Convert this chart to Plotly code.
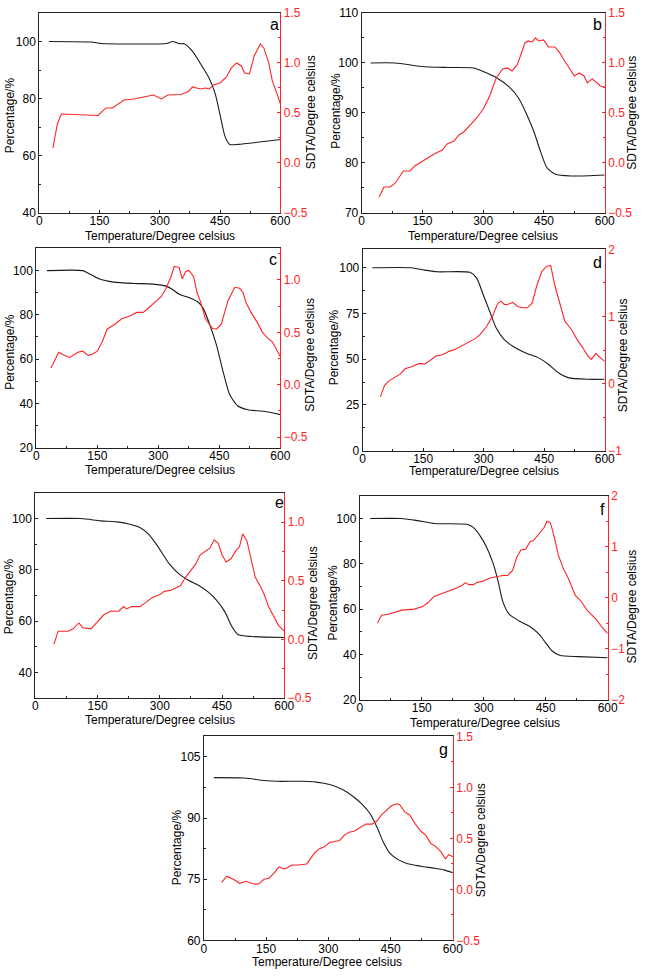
import plotly.graph_objects as go

W, H = 651, 978
RED = "#ff2424"
FONT = "Arial, Liberation Sans, sans-serif"

# ---------------- data ----------------
a_tg_x = [24, 130, 154, 316, 332, 349, 361, 381, 405, 422, 438, 450, 462, 474, 495, 600]
a_tg_y = [100, 99.8, 99.3, 99.3, 100, 99.2, 99.2, 96.6, 91.4, 87.4, 81.7, 74.3, 66.9, 64, 64, 65.7]
a_sd_x = [34, 45, 55, 146, 166, 182, 211, 235, 284, 304, 320, 353, 373, 381, 401, 414, 423, 434, 450, 466, 478, 491, 503, 511, 523, 535, 550, 559, 571, 580, 592, 600]
a_sd_y = [0.15, 0.39, 0.49, 0.475, 0.55, 0.55, 0.63, 0.64, 0.68, 0.64, 0.68, 0.685, 0.72, 0.76, 0.74, 0.75, 0.74, 0.78, 0.8, 0.86, 0.95, 1.0, 0.97, 0.9, 0.89, 1.07, 1.19, 1.15, 1.0, 0.82, 0.69, 0.59]

b_tg_x = [22, 83, 147, 211, 276, 300, 332, 364, 388, 408, 425, 441, 457, 477, 517, 600]
b_tg_y = [100, 100, 99.3, 99.1, 99, 98.3, 97.1, 95.2, 92.9, 89.6, 86.3, 82.4, 79.1, 77.8, 77.4, 77.6]
b_sd_x = [43, 55, 71, 83, 103, 119, 131, 155, 179, 199, 211, 228, 240, 252, 268, 284, 300, 316, 332, 348, 360, 371, 384, 392, 403, 411, 421, 429, 437, 449, 461, 477, 489, 501, 513, 525, 537, 549, 557, 569, 581, 589, 600]
b_sd_y = [-0.34, -0.24, -0.24, -0.2, -0.08, -0.08, -0.03, 0.03, 0.09, 0.13, 0.19, 0.22, 0.28, 0.31, 0.38, 0.45, 0.54, 0.67, 0.85, 0.94, 0.95, 0.92, 0.98, 1.07, 1.2, 1.22, 1.21, 1.25, 1.22, 1.23, 1.16, 1.16, 1.1, 1.02, 0.95, 0.87, 0.9, 0.87, 0.8, 0.84, 0.8, 0.77, 0.76]

c_tg_x = [26, 114, 134, 154, 190, 239, 287, 319, 335, 351, 375, 399, 411, 427, 443, 459, 475, 495, 520, 560, 600]
c_tg_y = [100, 100, 98.2, 96.3, 94.8, 94.2, 93.9, 93, 91.5, 89.3, 87.8, 85.6, 82.7, 75.3, 66.3, 54.5, 44.1, 38.9, 37.1, 36.4, 34.9]
c_sd_x = [36, 55, 70, 82, 102, 114, 127, 138, 150, 162, 174, 194, 210, 227, 247, 263, 275, 290, 307, 319, 331, 339, 351, 359, 367, 375, 387, 395, 403, 416, 432, 443, 455, 471, 488, 500, 508, 516, 528, 544, 556, 568, 580, 600]
c_sd_y = [0.16, 0.31, 0.28, 0.26, 0.31, 0.32, 0.28, 0.29, 0.32, 0.41, 0.53, 0.58, 0.63, 0.65, 0.69, 0.69, 0.73, 0.78, 0.84, 0.92, 1.03, 1.13, 1.12, 1.01, 1.08, 1.09, 1.03, 0.88, 0.8, 0.63, 0.54, 0.53, 0.58, 0.8, 0.93, 0.92, 0.88, 0.78, 0.69, 0.59, 0.5, 0.45, 0.41, 0.27]

d_tg_x = [24, 121, 153, 186, 266, 283, 299, 315, 331, 351, 372, 404, 436, 461, 485, 509, 557, 600]
d_tg_y = [100, 100, 98.7, 97.8, 97.5, 94.2, 85.1, 76.1, 67.0, 60.7, 57.1, 53.4, 50.7, 47.1, 42.6, 39.9, 39.0, 39.0]
d_sd_x = [44, 54, 65, 81, 93, 105, 121, 141, 153, 166, 182, 198, 214, 230, 246, 262, 279, 291, 307, 323, 335, 343, 351, 359, 372, 384, 396, 408, 420, 432, 444, 456, 466, 476, 488, 501, 517, 533, 545, 557, 567, 578, 590, 600]
d_sd_y = [-0.2, -0.03, 0.04, 0.09, 0.14, 0.22, 0.25, 0.3, 0.29, 0.34, 0.41, 0.43, 0.48, 0.51, 0.56, 0.61, 0.67, 0.73, 0.85, 1.02, 1.2, 1.23, 1.18, 1.18, 1.21, 1.15, 1.13, 1.13, 1.2, 1.47, 1.67, 1.75, 1.76, 1.47, 1.2, 0.93, 0.81, 0.64, 0.54, 0.42, 0.36, 0.45, 0.38, 0.33]

e_tg_x = [26, 110, 157, 197, 228, 252, 272, 291, 307, 323, 346, 370, 394, 417, 437, 457, 472, 488, 520, 600]
e_tg_y = [100, 100, 99.1, 98.7, 97.8, 96.5, 94, 90.1, 86.2, 82.3, 78.4, 75.8, 73.9, 71.3, 68.1, 63.6, 58.4, 54.8, 54, 53.6]
e_sd_x = [45, 55, 79, 91, 105, 114, 134, 150, 165, 181, 201, 213, 220, 232, 252, 268, 283, 299, 311, 327, 350, 362, 374, 386, 397, 409, 421, 431, 441, 450, 460, 472, 484, 492, 500, 510, 520, 530, 543, 551, 562, 575, 586, 600]
e_sd_y = [-0.04, 0.07, 0.07, 0.09, 0.14, 0.1, 0.09, 0.15, 0.21, 0.24, 0.24, 0.28, 0.26, 0.28, 0.28, 0.32, 0.36, 0.38, 0.41, 0.42, 0.46, 0.53, 0.59, 0.64, 0.72, 0.75, 0.78, 0.85, 0.82, 0.72, 0.66, 0.69, 0.76, 0.79, 0.9, 0.84, 0.69, 0.53, 0.45, 0.39, 0.28, 0.19, 0.12, 0.07]

f_tg_x = [25, 101, 132, 156, 180, 259, 275, 291, 307, 323, 335, 346, 362, 386, 410, 434, 449, 465, 485, 529, 600]
f_tg_y = [100, 100, 99.3, 98.6, 97.8, 97.5, 96.1, 92.5, 87.4, 80.1, 72.2, 63.5, 57.7, 54.8, 52.6, 49, 45.4, 41.7, 39.6, 39.1, 38.6]
f_sd_x = [43, 53, 69, 89, 102, 117, 132, 152, 164, 180, 196, 212, 236, 248, 256, 264, 275, 283, 299, 315, 331, 346, 358, 370, 380, 390, 402, 412, 420, 434, 446, 453, 461, 469, 481, 493, 505, 521, 537, 549, 561, 572, 584, 600]
f_sd_y = [-0.49, -0.34, -0.32, -0.28, -0.24, -0.23, -0.22, -0.17, -0.1, 0.03, 0.08, 0.12, 0.2, 0.25, 0.3, 0.26, 0.26, 0.3, 0.33, 0.39, 0.42, 0.44, 0.44, 0.54, 0.8, 0.94, 0.96, 1.1, 1.12, 1.25, 1.38, 1.5, 1.48, 1.25, 0.83, 0.57, 0.38, 0.06, -0.08, -0.23, -0.33, -0.42, -0.55, -0.7]

g_tg_x = [24, 98, 145, 177, 240, 271, 303, 334, 358, 381, 401, 417, 432, 448, 468, 491, 523, 555, 578, 600]
g_tg_y = [99.9, 99.8, 99.2, 99, 99, 98.8, 98.2, 97, 95.4, 93.4, 91, 87.8, 84.2, 81.4, 79.8, 78.8, 78.2, 77.7, 77.3, 76.6]
g_sd_x = [43, 55, 71, 86, 102, 114, 126, 134, 145, 157, 169, 181, 193, 200, 212, 228, 248, 256, 267, 279, 291, 303, 315, 327, 338, 350, 362, 374, 390, 405, 417, 428, 440, 452, 464, 472, 484, 496, 508, 523, 535, 547, 559, 571, 582, 590, 600]
g_sd_y = [0.07, 0.13, 0.1, 0.06, 0.08, 0.06, 0.05, 0.06, 0.1, 0.11, 0.16, 0.22, 0.2, 0.21, 0.24, 0.24, 0.25, 0.3, 0.36, 0.4, 0.42, 0.46, 0.47, 0.48, 0.53, 0.56, 0.57, 0.6, 0.64, 0.64, 0.67, 0.73, 0.78, 0.82, 0.84, 0.83, 0.76, 0.73, 0.65, 0.57, 0.53, 0.45, 0.42, 0.37, 0.3, 0.34, 0.32]

panel_letters = ["a", "b", "c", "d", "e", "f", "g"]
x_title = "Temperature/Degree celsius"
left_title = "Percentage/%"
right_title = "SDTA/Degree celsius"

series = [
    (a_tg_x, a_tg_y, a_sd_x, a_sd_y),
    (b_tg_x, b_tg_y, b_sd_x, b_sd_y),
    (c_tg_x, c_tg_y, c_sd_x, c_sd_y),
    (d_tg_x, d_tg_y, d_sd_x, d_sd_y),
    (e_tg_x, e_tg_y, e_sd_x, e_sd_y),
    (f_tg_x, f_tg_y, f_sd_x, f_sd_y),
    (g_tg_x, g_tg_y, g_sd_x, g_sd_y),
]

# ---------------- layout geometry (pixels) ----------------
boxes = [
    (37, 283, 6, 209),
    (366, 614, 6, 209),
    (34, 283, 245, 447),
    (367, 614, 246, 450),
    (33, 287, 493, 701),
    (364, 617, 496, 703),
    (205, 459, 740, 947),
]
left_axes = [
    ([40, 110], 40, 20, 10),
    ([70, 110], 70, 10, 5),
    ([20, 110], 20, 20, 10),
    ([0, 110], 0, 25, 12.5),
    ([30, 110], 40, 20, 10),
    ([20, 110], 20, 20, 10),
    ([60, 110], 60, 15, 7.5),
]
right_axes = [
    ([-0.5, 1.5], -0.5, 0.5, 0.25, ".1f"),
    ([-0.5, 1.5], -0.5, 0.5, 0.25, ".1f"),
    ([-0.6, 1.3], -0.5, 0.5, 0.25, ".1f"),
    ([-1, 2], -1, 1, 0.5, "d"),
    ([-0.5, 1.25], -0.5, 0.5, 0.25, ".1f"),
    ([-2, 2], -2, 1, 0.5, "d"),
    ([-0.5, 1.5], -0.5, 0.5, 0.25, ".1f"),
]
xtitle_pos = [(160, 232), (490, 232), (160, 470), (491, 471), (160, 723), (492, 726), (331, 969)]
ltitle_pos = [(8, 110), (340, 105), (7, 350), (338, 345), (7, 598), (337, 604), (177, 852)]
rtitle_pos = [(315, 107), (642, 107), (313, 353), (633, 353), (317, 605), (642, 608), (488, 845)]
letter_pos = [(277, 18), (607, 18), (275, 256), (607, 259), (282, 503), (612, 510), (449, 753)]


def px(x):
    return x / W


def py(y):
    return 1 - y / H


fig = go.Figure()
layout = dict(
    width=W, height=H,
    margin=dict(l=0, r=0, t=0, b=0),
    paper_bgcolor="white", plot_bgcolor="white",
    showlegend=False,
    font=dict(family=FONT, size=12, color="black"),
)
annotations = []

for i in range(7):
    xn = i + 1
    yl = 2 * i + 1
    yr = 2 * i + 2
    xid = "x" if xn == 1 else f"x{xn}"
    ylid = "y" if yl == 1 else f"y{yl}"
    yrid = f"y{yr}"
    tx, ty, sx, sy = series[i]
    fig.add_trace(go.Scatter(x=tx, y=ty, mode="lines", xaxis=xid, yaxis=ylid,
                             line=dict(color="#1a1a1a", width=1.1, shape="spline", smoothing=0.6)))
    fig.add_trace(go.Scatter(x=sx, y=sy, mode="lines", xaxis=xid, yaxis=yrid,
                             line=dict(color=RED, width=1.1)))
    x0, x1, yt, yb = boxes[i]
    xkey = "xaxis" if xn == 1 else f"xaxis{xn}"
    ylkey = "yaxis" if yl == 1 else f"yaxis{yl}"
    yrkey = f"yaxis{yr}"
    layout[xkey] = dict(
        domain=[px(x0), px(x1)], anchor=ylid, range=[0, 600],
        tickmode="linear", tick0=0, dtick=150, ticks="inside", ticklen=3,
        tickcolor="#222", showline=True, linecolor="#222", linewidth=1, mirror=True,
        showgrid=False, zeroline=False, tickfont=dict(size=12, color="black"),
        ticklabelstandoff=-3,
        minor=dict(ticks="inside", ticklen=2, dtick=75, tickcolor="#222", showgrid=False),
    )
    rng, t0, dt, mdt = left_axes[i]
    layout[ylkey] = dict(
        domain=[py(yb), py(yt)], anchor=xid, range=rng,
        tickmode="linear", tick0=t0, dtick=dt, ticks="inside", ticklen=3,
        tickcolor="#222", showline=True, linecolor="#222", linewidth=1,
        showgrid=False, zeroline=False, tickfont=dict(size=12, color="black"),
        minor=dict(ticks="inside", ticklen=2, dtick=mdt, tick0=t0, tickcolor="#222", showgrid=False),
    )
    rrng, rt0, rdt, rmdt, fmt = right_axes[i]
    layout[yrkey] = dict(
        domain=[py(yb), py(yt)], anchor=xid, overlaying=ylid, side="right", range=rrng,
        tickmode="linear", tick0=rt0, dtick=rdt, ticks="inside", ticklen=3,
        tickcolor=RED, showline=True, linecolor=RED, linewidth=1.2,
        showgrid=False, zeroline=False, tickformat=fmt,
        tickfont=dict(size=12, color=RED),
        minor=dict(ticks="inside", ticklen=2, dtick=rmdt, tick0=rt0, tickcolor=RED, showgrid=False),
    )
    ax, ay = xtitle_pos[i]
    annotations.append(dict(x=px(ax), y=py(ay), xref="paper", yref="paper", text=x_title,
                            showarrow=False, xanchor="center", yanchor="middle",
                            font=dict(size=12, color="black")))
    lx, ly = ltitle_pos[i]
    annotations.append(dict(x=px(lx), y=py(ly), xref="paper", yref="paper", text=left_title,
                            showarrow=False, xanchor="center", yanchor="middle", textangle=-90,
                            font=dict(size=12, color="black")))
    rx, ry = rtitle_pos[i]
    annotations.append(dict(x=px(rx), y=py(ry), xref="paper", yref="paper", text=right_title,
                            showarrow=False, xanchor="center", yanchor="middle", textangle=-90,
                            font=dict(size=12, color="black")))
    gx, gy = letter_pos[i]
    annotations.append(dict(x=px(gx), y=py(gy), xref="paper", yref="paper", text=panel_letters[i],
                            showarrow=False, xanchor="center", yanchor="middle",
                            font=dict(size=16, color="black")))

layout["annotations"] = annotations
fig.update_layout(**layout)
fig.write_html(
    "out.html",
    config={"displayModeBar": False},
    post_script="document.body.style.margin='0';document.body.style.overflow='hidden';",
)
